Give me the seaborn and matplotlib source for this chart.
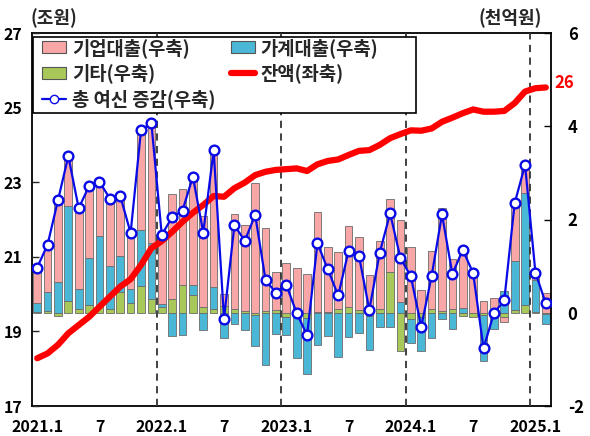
import numpy as np
import pandas as pd
import matplotlib
matplotlib.use("Agg")
import matplotlib.pyplot as plt
from matplotlib.patches import Patch, Rectangle
from matplotlib.lines import Line2D
import seaborn as sns

# ---------------- data ----------------
months = [f"{y}.{m}" for y in range(2021, 2026) for m in range(1, 13)][:50]

corp = [0.73, 1.00, 1.82, 1.04, 1.70, 1.52, 1.13, 1.42, 1.26, 1.17, 2.11, 2.58,
        1.48, 2.25, 2.07, 2.32, 1.95, 2.90, 0.25, 2.02, 1.85, 2.78, 1.77, 0.82,
        1.06, 0.97, 0.83, 2.15, 1.40, 1.22, 1.72, 1.56, 0.82, 1.47, 1.57, 1.75,
        1.42, 0.49, 1.23, 2.22, 1.08, 1.27, 0.94, 0.26, 0.32, -0.09, 1.23, 0.61,
        0.15, 0.42]
house = [0.18, 0.41, 0.67, 2.04, 0.43, 1.00, 1.52, 0.93, 0.77, 0.29, 1.20, 1.20,
         0.05, -0.50, -0.48, 0.21, -0.37, 0.46, -0.55, -0.24, -0.36, -0.67, -1.12, -0.46,
         -0.38, -0.96, -1.20, -0.69, -0.50, -0.94, -0.53, -0.43, -0.72, -0.30, -0.31, 0.24,
         -0.51, -0.73, -0.55, -0.13, -0.34, 0.11, 0.00, -0.98, -0.35, 0.47, 1.06, 2.40,
         0.68, -0.23]
other = [0.02, 0.03, -0.08, 0.25, 0.07, 0.17, 0.13, 0.07, 0.45, 0.21, 0.57, 0.29,
         0.13, 0.29, 0.59, 0.38, 0.13, 0.09, 0.15, 0.09, 0.03, -0.05, 0.04, 0.05,
         -0.10, -0.02, -0.12, 0.02, 0.02, 0.09, 0.13, 0.06, -0.07, 0.07, 0.88, -0.82,
         -0.13, -0.09, 0.09, 0.03, 0.07, -0.06, -0.09, -0.05, 0.00, -0.10, 0.06, 0.16,
         0.02, -0.02]
total = [0.97, 1.46, 2.41, 3.36, 2.24, 2.72, 2.81, 2.45, 2.51, 1.71, 3.91, 4.07,
         1.67, 2.05, 2.19, 2.92, 1.72, 3.48, -0.13, 1.88, 1.54, 2.10, 0.70, 0.43,
         0.60, -0.01, -0.48, 1.49, 0.93, 0.37, 1.33, 1.22, 0.06, 1.29, 2.13, 1.17,
         0.78, -0.30, 0.79, 2.11, 0.83, 1.35, 0.85, -0.76, -0.01, 0.27, 2.35, 3.17,
         0.86, 0.20]
balance = [18.28, 18.41, 18.64, 18.95, 19.17, 19.39, 19.66, 19.93, 20.20, 20.40, 20.78, 21.23,
           21.42, 21.67, 21.94, 22.18, 22.39, 22.63, 22.61, 22.84, 22.99, 23.19, 23.28, 23.33,
           23.35, 23.37, 23.30, 23.48, 23.57, 23.61, 23.73, 23.84, 23.86, 24.00, 24.18, 24.29,
           24.39, 24.38, 24.44, 24.62, 24.73, 24.85, 24.95, 24.89, 24.89, 24.91, 25.12, 25.43,
           25.52, 25.54]

xtick_months = ["2021.1", "2021.7", "2022.1", "2022.7", "2023.1", "2023.7", "2024.1", "2024.7", "2025.1"]
xtick_labels = ["2021.1", "7", "2022.1", "7", "2023.1", "7", "2024.1", "7", "2025.1"]
year_starts = ["2022.1", "2023.1", "2024.1", "2025.1"]
left_ticks = [17, 19, 21, 23, 25, 27]
right_ticks = [-2, 0, 2, 4, 6]

labels = {"corp": "기업대출(우축)", "house": "가계대출(우축)", "other": "기타(우축)",
          "bal": "잔액(좌축)", "total": "총 여신 증감(우축)"}
colors = {"corp": "#F8A7A6", "house": "#4BB7D6", "other": "#A8C95A",
          "bal": "#FF0000", "total": "#0A0AE6"}

df = pd.DataFrame({"month": months, "corp": corp, "house": house, "other": other,
                   "total": total, "balance": balance})
df["i"] = np.arange(len(df))

# ---------------- style ----------------
sns.set_theme(style="white")
plt.rcParams["font.family"] = ["Noto Sans CJK KR", "DejaVu Sans"]
plt.rcParams["font.weight"] = "bold"
plt.rcParams["axes.unicode_minus"] = False

W, H = 590, 436
fig = plt.figure(figsize=(W / 100, H / 100), dpi=100)
ax = fig.add_axes([32 / W, 30 / H, 519 / W, 373 / H])
ax_bal = ax.twinx()
ax_tot = ax.twinx()

# stacked bars (right scale)
pos_bottom = np.zeros(len(df))
neg_bottom = np.zeros(len(df))
for key in ["other", "house", "corp"]:
    v = df[key].to_numpy()
    bottom = np.where(v >= 0, pos_bottom, neg_bottom)
    ax.bar(df["i"], v, bottom=bottom, width=0.74, color=colors[key],
           edgecolor="#6b6b6b", linewidth=0.6, zorder=2)
    pos_bottom = pos_bottom + np.where(v >= 0, v, 0)
    neg_bottom = neg_bottom + np.where(v < 0, v, 0)

for ys in year_starts:
    ax.axvline(months.index(ys) - 0.5, color="#333333", lw=1.3,
               ls=(0, (4, 3)), zorder=3)

ax.set_xlim(-0.5, 49.5)
ax.set_ylim(-2, 6)

# balance line (left scale)
sns.lineplot(data=df, x="i", y="balance", ax=ax_bal, color=colors["bal"],
             lw=4.5, solid_capstyle="round")
ax_bal.set_ylim(17, 27)
ax_bal.annotate(f"{balance[-1]:.0f}", xy=(df["i"].iloc[-1], balance[-1]),
                xytext=(6, 3), textcoords="offset points", color=colors["bal"],
                fontsize=12, fontweight="bold", ha="left", va="center",
                annotation_clip=False)

# total line (right scale)
sns.lineplot(data=df, x="i", y="total", ax=ax_tot, color=colors["total"], lw=1.6,
             marker="o", markersize=7, markerfacecolor="white",
             markeredgecolor=colors["total"], markeredgewidth=1.7)
ax_tot.set_ylim(-2, 6)
ax_tot.set_yticks([])
ax_tot.set_ylabel("")
ax_bal.set_ylabel("")
ax.set_ylabel("")
for a in (ax, ax_bal, ax_tot):
    a.set_xlabel("")

# axes / ticks
ax.set_xticks([months.index(m) for m in xtick_months])
ax.set_xticklabels(xtick_labels)
ax.tick_params(axis="x", length=0, pad=9, labelsize=11.5)

ax.yaxis.tick_right()
ax.set_yticks(right_ticks)
ax.tick_params(axis="y", direction="in", length=5, width=1, pad=12, labelsize=12,
               right=True, left=False, labelright=True, labelleft=False, colors="black")
ax_bal.yaxis.tick_left()
ax_bal.set_yticks(left_ticks)
ax_bal.tick_params(axis="y", direction="in", length=5, width=1, pad=7, labelsize=11.5,
                   left=True, right=False, labelleft=True, labelright=False)
for t in ax.get_xticklabels() + ax.get_yticklabels() + ax_bal.get_yticklabels():
    t.set_fontweight("bold")
    t.set_color("black")

for s in ax.spines.values():
    s.set_color("black")
    s.set_linewidth(1.3)
for a in (ax_bal, ax_tot):
    for s in a.spines.values():
        s.set_visible(False)

# legend box + legend
box_x0, box_x1, box_y0, box_y1 = 33, 416, 37, 113   # pixel extent of the legend frame
ax_tot.add_patch(Rectangle(((box_x0 - 32) / 519, (406 - box_y1) / 373),
                           (box_x1 - box_x0) / 519, (box_y1 - box_y0) / 373,
                           transform=ax_tot.transAxes, facecolor="white",
                           edgecolor="black", linewidth=1.2, zorder=5, clip_on=False))
handles = [
    Patch(facecolor=colors["corp"], edgecolor="#555555", linewidth=0.8, label=labels["corp"]),
    Patch(facecolor=colors["other"], edgecolor="#555555", linewidth=0.8, label=labels["other"]),
    Line2D([0], [0], color=colors["total"], lw=1.6, marker="o", markersize=6,
           markerfacecolor="white", markeredgecolor=colors["total"], label=labels["total"]),
    Patch(facecolor=colors["house"], edgecolor="#555555", linewidth=0.8, label=labels["house"]),
    Line2D([0], [0], color=colors["bal"], lw=4.5, label=labels["bal"]),
]
leg = ax_tot.legend(handles=handles, ncol=2, loc="upper left",
                    bbox_to_anchor=((42 - 32) / 519, (406 - 38) / 373),
                    frameon=False, prop={"size": 13.5, "weight": "bold"},
                    handlelength=1.3, handleheight=0.6, labelspacing=0.3,
                    columnspacing=0.8, borderpad=0.0, handletextpad=0.3,
                    borderaxespad=0.0)
leg.set_zorder(6)

fig.text(30 / W, 1 - 18 / H, "(조원)", ha="left", va="center",
         fontsize=13, fontweight="bold")
fig.text(510 / W, 1 - 18 / H, "(천억원)", ha="center", va="center",
         fontsize=13, fontweight="bold")

fig.savefig("out.png", dpi=100)
